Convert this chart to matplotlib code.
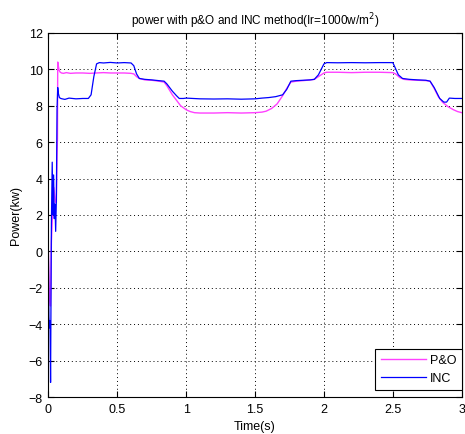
import matplotlib
matplotlib.use("Agg")
import matplotlib.pyplot as plt

plt.rcParams['font.family'] = ['Liberation Sans', 'DejaVu Sans']

# P&O method (magenta)
po_t = [0.0, 0.008, 0.015, 0.022, 0.03, 0.04, 0.05, 0.058, 0.063, 0.066, 0.068, 0.072,
        0.078, 0.085, 0.095, 0.11, 0.13, 0.16, 0.2, 0.25, 0.3, 0.35, 0.4, 0.45, 0.5,
        0.55, 0.6, 0.62, 0.64, 0.66, 0.7, 0.75, 0.8, 0.84, 0.86, 0.88, 0.9, 0.93,
        0.96, 1.0, 1.03, 1.06, 1.1, 1.2, 1.3, 1.4, 1.5, 1.55, 1.58, 1.62, 1.66,
        1.7, 1.73, 1.76, 1.8, 1.85, 1.9, 1.93, 1.96, 2.0, 2.02, 2.1, 2.2, 2.3,
        2.4, 2.5, 2.52, 2.55, 2.58, 2.62, 2.68, 2.74, 2.77, 2.8, 2.83, 2.86,
        2.9, 2.94, 2.97, 3.0]
po_p = [0.0, -2.5, -3.0, 0.5, 2.0, 3.5, 2.7, 2.7, 5.3, 6.2, 10.4, 10.2,
        9.95, 9.85, 9.8, 9.78, 9.82, 9.78, 9.8, 9.8, 9.78, 9.8, 9.82, 9.8, 9.8,
        9.8, 9.78, 9.75, 9.6, 9.5, 9.42, 9.4, 9.35, 9.3, 9.1, 8.85, 8.6, 8.3,
        8.0, 7.78, 7.68, 7.62, 7.6, 7.6, 7.62, 7.6, 7.62, 7.65, 7.7, 7.85, 8.1,
        8.55, 8.95, 9.3, 9.35, 9.38, 9.42, 9.45, 9.6, 9.8, 9.84, 9.84, 9.82, 9.84,
        9.84, 9.82, 9.75, 9.55, 9.45, 9.42, 9.4, 9.38, 9.35, 8.95, 8.5, 8.2,
        7.95, 7.78, 7.68, 7.62]

# INC method (blue)
inc_t = [0.0, 0.004, 0.008, 0.012, 0.016, 0.022, 0.028, 0.033, 0.038, 0.043, 0.048,
         0.053, 0.058, 0.063, 0.068, 0.072, 0.08, 0.09, 0.1, 0.12, 0.15, 0.2, 0.25,
         0.29, 0.31, 0.33, 0.35, 0.37, 0.4, 0.45, 0.5, 0.55, 0.6, 0.62, 0.64, 0.66,
         0.7, 0.75, 0.8, 0.84, 0.86, 0.88, 0.9, 0.93, 0.95, 0.98, 1.0, 1.1, 1.2,
         1.3, 1.4, 1.5, 1.55, 1.6, 1.65, 1.7, 1.73, 1.76, 1.8, 1.85, 1.9, 1.93,
         1.96, 2.0, 2.02, 2.1, 2.2, 2.3, 2.4, 2.5, 2.51, 2.54, 2.57, 2.62, 2.68,
         2.74, 2.77, 2.8, 2.84, 2.87, 2.89, 2.91, 2.95, 3.0]
inc_p = [0.0, -3.6, -4.2, -3.8, -7.2, 1.5, 4.9, 2.0, 4.2, 1.8, 2.6,
         1.1, 2.8, 7.8, 9.0, 8.7, 8.45, 8.4, 8.38, 8.35, 8.42, 8.38, 8.4,
         8.4, 8.6, 9.6, 10.3, 10.37, 10.35, 10.38, 10.35, 10.37, 10.35, 10.2, 9.75, 9.5,
         9.45, 9.42, 9.38, 9.35, 9.2, 9.0, 8.8, 8.55, 8.4, 8.4, 8.42, 8.38, 8.37,
         8.38, 8.36, 8.38, 8.42, 8.45, 8.5, 8.6, 8.9, 9.35, 9.38, 9.4, 9.42, 9.45,
         9.7, 10.3, 10.37, 10.36, 10.37, 10.36, 10.37, 10.37, 10.2, 9.7, 9.5, 9.45, 9.42,
         9.4, 9.35, 9.0, 8.4, 8.2, 8.2, 8.42, 8.4, 8.4]

x_ticks = [0, 0.5, 1, 1.5, 2, 2.5, 3]
x_tick_labels = ['0', '0.5', '1', '1.5', '2', '2.5', '3']
y_ticks = [-8, -6, -4, -2, 0, 2, 4, 6, 8, 10, 12]

fig = plt.figure(figsize=(4.65, 4.35), dpi=100)
ax = fig.add_axes([0.104, 0.085, 0.889, 0.837])

ax.plot(po_t, po_p, color='#ff40ff', lw=1.0, label='P&O')
ax.plot(inc_t, inc_p, color='#0000ff', lw=0.9, label='INC')

ax.set_xlim(0, 3)
ax.set_ylim(-8, 12)
ax.set_xticks(x_ticks)
ax.set_xticklabels(x_tick_labels)
ax.set_yticks(y_ticks)
ax.tick_params(direction='in', labelsize=9, length=4, top=True, right=True, pad=4)
ax.grid(True, linestyle=(0, (1, 3)), color='black', linewidth=0.7)
for s in ax.spines.values():
    s.set_linewidth(0.8)

ax.set_xlabel('Time(s)', fontsize=9, labelpad=4)
ax.set_ylabel('Power(kw)', fontsize=9, labelpad=5)
ax.set_title('power with p&O and INC method(Ir=1000w/m$^2$)', fontsize=8.5, pad=6)

leg = ax.legend(loc='lower right', bbox_to_anchor=(1.0, 0.02), fontsize=9,
                fancybox=False, framealpha=1, edgecolor='black', borderaxespad=0.0,
                handlelength=3.6, handletextpad=0.3, borderpad=0.45, labelspacing=0.45)
leg.get_frame().set_linewidth(0.8)

fig.savefig('out.png', dpi=100)
